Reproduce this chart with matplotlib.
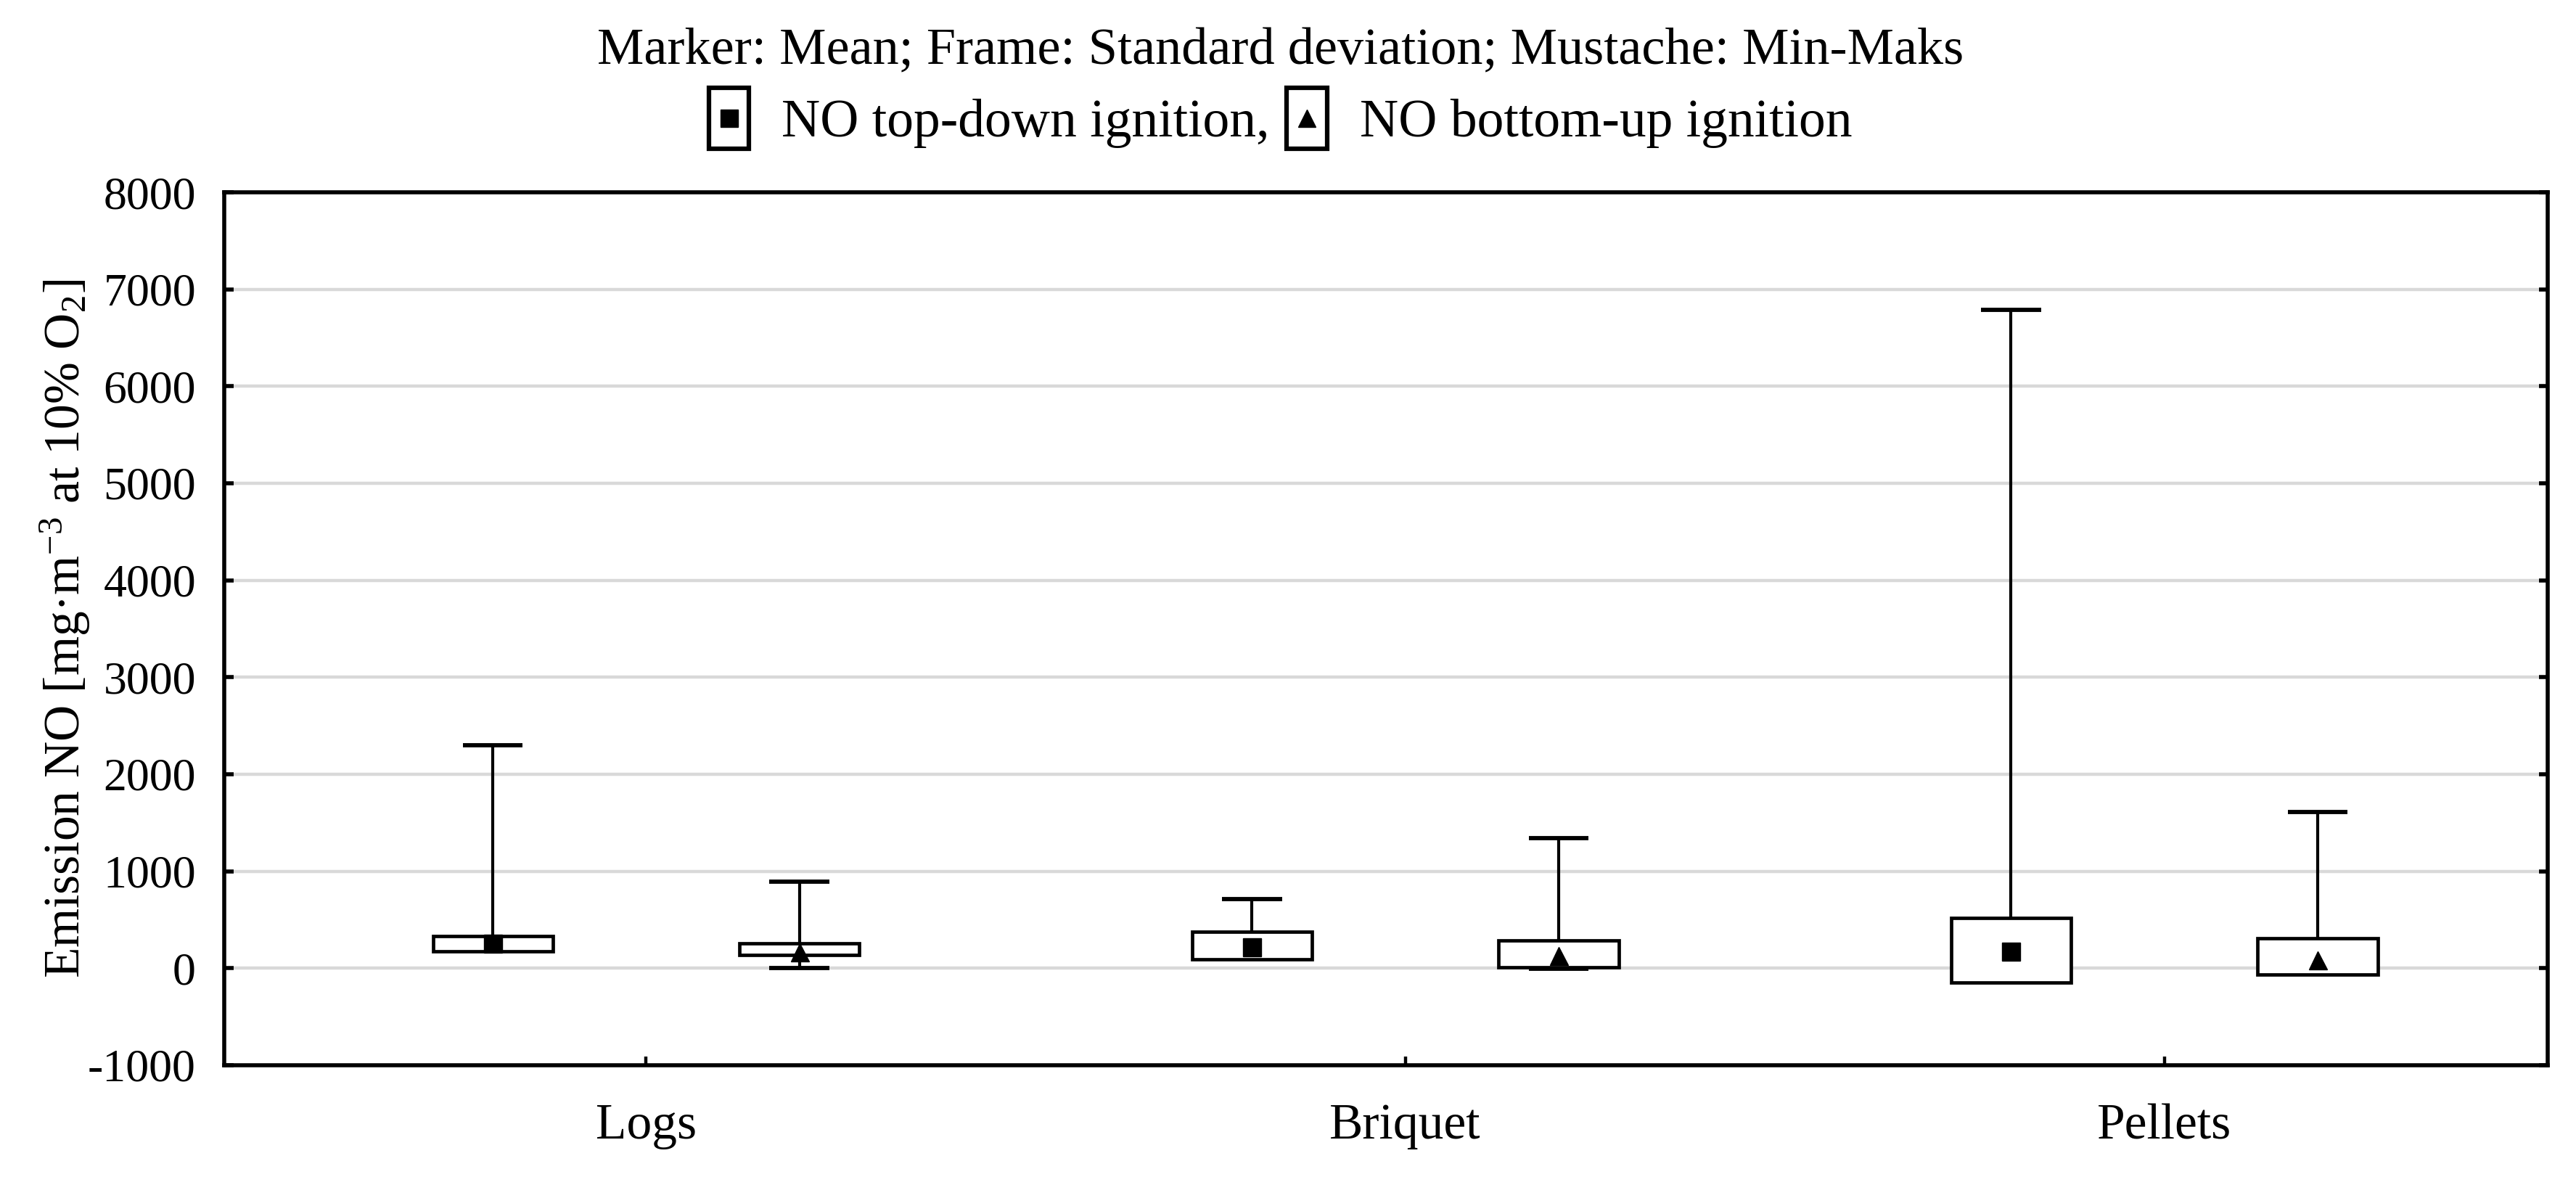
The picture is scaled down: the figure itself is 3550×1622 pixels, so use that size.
import matplotlib
matplotlib.use("Agg")
import matplotlib.pyplot as plt
from matplotlib.patches import Rectangle
from matplotlib.lines import Line2D
from matplotlib.legend_handler import HandlerBase

plt.rcParams['font.family'] = ['Liberation Serif', 'DejaVu Serif']
plt.rcParams['mathtext.default'] = 'regular'
plt.rcParams['axes.unicode_minus'] = False

categories = ["Logs", "Briquet", "Pellets"]

# top-down ignition: mean, mean-SD, mean+SD, min, max
td_mean = [254, 221, 177]
td_lo = [175, 92, -147]
td_hi = [330, 377, 520]
td_min = [180, 100, 0]
td_max = [2300, 715, 6790]

# bottom-up ignition
bu_mean = [165, 126, 82]
bu_lo = [136, 12, -67]
bu_hi = [254, 285, 306]
bu_min = [0, -5, 0]
bu_max = [890, 1340, 1612]

box_w = 0.158
offset = 0.202


class BoxMarker(HandlerBase):
    def __init__(self, marker, msize):
        self.marker = marker
        self.msize = msize
        super().__init__()

    def create_artists(self, legend, orig_handle, xdescent, ydescent,
                       width, height, fontsize, trans):
        w = width
        h = width * 1.5
        cx = -xdescent + width / 2
        cy = -ydescent + height / 2
        r = Rectangle((cx - w / 2, cy - h / 2), w, h, facecolor="white",
                      edgecolor="black", lw=4.5, transform=trans)
        m = Line2D([cx], [cy], marker=self.marker, color="black", ls="none",
                   markersize=self.msize, transform=trans)
        return [r, m]


fig = plt.figure(figsize=(35.5, 16.22), dpi=100)
ax = fig.add_axes([0.087, 0.095, 0.902, 0.7416])

def draw_group(xs, lo, hi, mn, mx, mean, marker):
    for i in range(len(xs)):
        x = xs[i]
        ax.vlines(x, mn[i], mx[i], color="black", lw=3, zorder=2)
        ax.hlines([mn[i], mx[i]], x - box_w / 4, x + box_w / 4, color="black", lw=4.2, zorder=2)
        ax.bar(x, hi[i] - lo[i], bottom=lo[i], width=box_w, facecolor="white",
               edgecolor="black", lw=3.4, zorder=3)
    ax.plot(xs, mean, ls="none", marker=marker, color="black", markersize=18, zorder=4)

pos = list(range(len(categories)))
td_x = [p - offset for p in pos]
bu_x = [p + offset for p in pos]
draw_group(td_x, td_lo, td_hi, td_min, td_max, td_mean, "s")
draw_group(bu_x, bu_lo, bu_hi, bu_min, bu_max, bu_mean, "^")

ax.set_xlim(-0.556, 2.505)
ax.set_ylim(-1000, 8000)
ax.set_yticks(range(-1000, 8001, 1000))
ax.set_xticks(pos)
ax.set_xticklabels(categories)
for y in range(0, 7001, 1000):
    ax.axhline(y, color="#d9d9d9", lw=3.2, zorder=1)

for s in ax.spines.values():
    s.set_linewidth(4)
ax.tick_params(axis="y", direction="in", length=9, width=4, labelsize=46, pad=28,
               right=True)
ax.tick_params(axis="x", direction="in", length=9, width=3.2, labelsize=50, pad=38)

ax.set_ylabel("Emission NO [mg·m$^{-3}$ at 10% O$_{2}$]", fontsize=50, labelpad=-4)

fig.text(0.497, 0.956, "Marker: Mean; Frame: Standard deviation; Mustache: Min-Maks",
         ha="center", va="center", fontsize=52)

h1 = Line2D([], [])
h2 = Line2D([], [])
fig.legend([h1, h2], ["NO top-down ignition,", "NO bottom-up ignition"],
           handler_map={h1: BoxMarker("s", 17), h2: BoxMarker("^", 17)},
           loc="center", bbox_to_anchor=(0.497, 0.895), ncol=2, frameon=False,
           fontsize=53, handlelength=0.76, handletextpad=0.6, columnspacing=0.33)

fig.savefig("out.png", dpi=100)
